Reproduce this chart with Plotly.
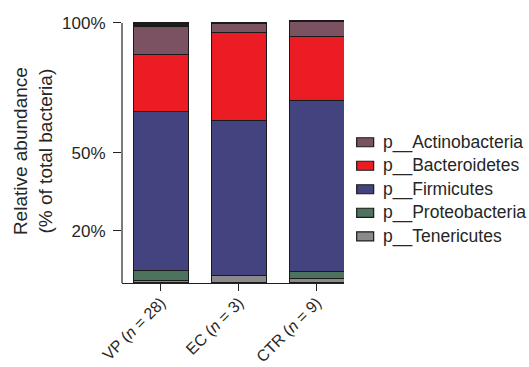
import plotly.graph_objects as go

# Groups and relative abundance (%) of each phylum
groups = ["VP (<i>n</i> = 28)", "EC (<i>n</i> = 3)", "CTR (<i>n</i> = 9)"]
tenericutes = [0.9, 3.0, 1.6]
proteobacteria = [3.8, 0.0, 2.7]
firmicutes = [61.3, 59.6, 65.9]
bacteroidetes = [21.8, 33.6, 24.7]
actinobacteria = [11.0, 3.8, 5.8]
other = [1.2, 0.0, 0.0]

y_tick_values = [20, 50, 100]
y_tick_labels = ["20%", "50%", "100%"]

# stacking order, bottom to top
series = [
    ("p__Tenericutes", tenericutes, "#8a8a8a"),
    ("p__Proteobacteria", proteobacteria, "#4d735e"),
    ("p__Firmicutes", firmicutes, "#43437f"),
    ("p__Bacteroidetes", bacteroidetes, "#ec1c24"),
    ("p__Actinobacteria", actinobacteria, "#7b5262"),
    ("Other", other, "#1e1e1e"),
]

FONT = "Liberation Sans, Arial, Helvetica, sans-serif"
TXT = "#262626"

fig = go.Figure()
for name, vals, col in series:
    # empty segments are skipped so they draw no outline
    fig.add_trace(go.Bar(
        x=groups, y=[v if v > 0 else None for v in vals], name=name,
        marker=dict(color=col, line=dict(color="#1a1a1a", width=1.2)),
        showlegend=False,
    ))

# plot area geometry (pixels)
L, R, T, B = 122, 184.7, 18.8, 84.3
W, H = 529, 367
pw, ph = W - L - R, H - T - B

fig.update_layout(
    width=W, height=H,
    margin=dict(l=L, r=R, t=T, b=B, pad=0),
    barmode="stack", bargap=0.295,
    plot_bgcolor="white", paper_bgcolor="white",
    font=dict(family=FONT, size=17, color=TXT),
    xaxis=dict(
        range=[-0.5, 2.35], showline=True, linecolor="#222", linewidth=1.2,
        ticks="outside", ticklen=7, tickcolor="#222", tickwidth=1.2,
        tickangle=-45, tickfont=dict(size=16, color=TXT), ticklabelstandoff=-4,
        showgrid=False, zeroline=False, automargin=False,
    ),
    yaxis=dict(
        range=[0, 101.5], showline=False,
        tickvals=y_tick_values, ticktext=y_tick_labels,
        ticks="outside", ticklen=8, tickcolor="#222", tickwidth=1.2,
        tickfont=dict(size=17, color=TXT), ticklabelstandoff=4,
        showgrid=False, zeroline=False, automargin=False,
    ),
)

# y axis line from 0% to 100%
fig.add_shape(type="line", xref="paper", yref="y", x0=0, x1=0, y0=0, y1=100,
              line=dict(color="#222", width=1.2))

# y axis title
fig.add_annotation(
    xref="paper", yref="paper", x=(33 - L) / pw, y=0.5,
    text="Relative abundance<br>(% of total bacteria)", showarrow=False,
    textangle=-90, xanchor="center", yanchor="middle",
    font=dict(size=19, color=TXT),
)

# legend, top entry first
legend_entries = [s for s in reversed(series) if s[0] != "Other"]
row0, step = 142.0, 23.5
for i, (name, vals, col) in enumerate(legend_entries):
    cy = row0 + step * i
    fig.add_shape(
        type="rect", xref="paper", yref="paper",
        x0=(357 - L) / pw, x1=(374 - L) / pw,
        y0=(H - B - (cy + 4.5)) / ph, y1=(H - B - (cy - 4.5)) / ph,
        fillcolor=col, line=dict(color="#1a1a1a", width=1.2),
    )
    fig.add_annotation(
        xref="paper", yref="paper", x=(381 - L) / pw, y=(H - B - cy) / ph,
        text=name, showarrow=False, xanchor="left", yanchor="middle",
        font=dict(size=17.5, color=TXT),
    )

fig.write_html("out.html")
